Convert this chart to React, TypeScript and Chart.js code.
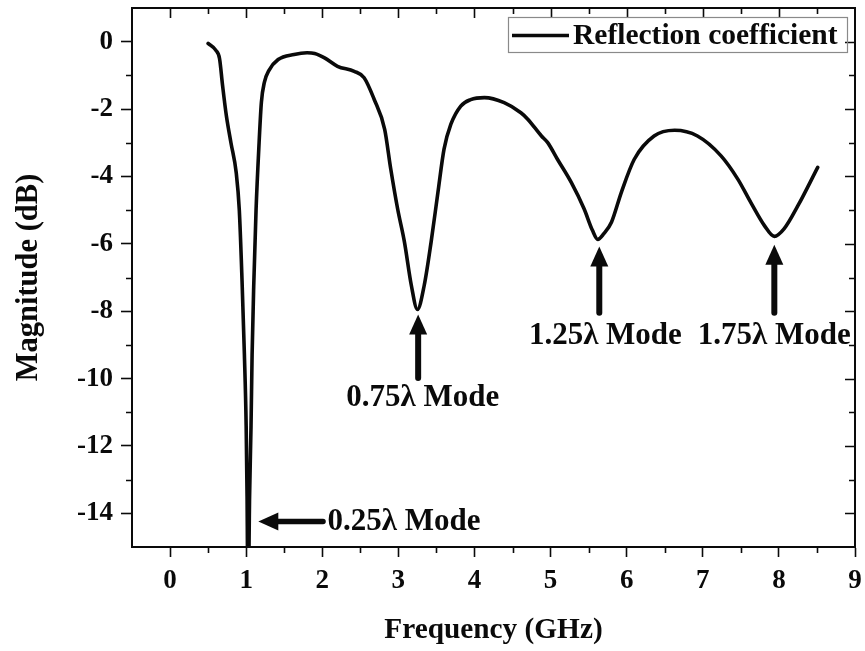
import React, { useEffect, useRef } from 'react';
import { Chart, registerables } from 'chart.js';

Chart.register(...registerables);

// Reflection coefficient sweep, frequency in GHz
const frequencyGHz = [
  0.5, 0.6, 0.65, 0.69, 0.74, 0.8, 0.87, 0.91, 0.946, 0.977, 1.0, 1.012, 1.025,
  1.045, 1.064, 1.078, 1.1, 1.13, 1.17, 1.2, 1.24, 1.3, 1.42, 1.63, 1.8, 1.9,
  2.03, 2.2, 2.42, 2.55, 2.68, 2.82, 2.9, 2.99, 3.08, 3.17, 3.25, 3.34, 3.43,
  3.52, 3.6, 3.69, 3.82, 3.95, 4.13, 4.39, 4.61, 4.7, 4.88, 4.96, 5.09, 5.27,
  5.44, 5.55, 5.62, 5.7, 5.8, 5.93, 6.1, 6.36, 6.63, 6.93, 7.24, 7.46, 7.63,
  7.81, 7.94, 8.07, 8.25, 8.51,
];

// Magnitude in dB
const magnitudeDb = [
  -0.05, -0.25, -0.5, -1.3, -2.2, -3.0, -3.9, -5.0, -7.1, -9.3, -11.4, -13.5, -17,
  -13.5, -11.4, -9.3, -7.2, -5.0, -3.0, -1.8, -1.2, -0.85, -0.53, -0.38, -0.33, -0.35,
  -0.48, -0.73, -0.88, -1.07, -1.7, -2.6, -3.78, -4.96, -5.95, -7.23, -7.95, -7.23, -5.95,
  -4.47, -3.19, -2.45, -1.91, -1.72, -1.66, -1.81, -2.11, -2.3, -2.8, -2.99, -3.49, -4.17,
  -4.96, -5.6, -5.87, -5.7, -5.36, -4.47, -3.49, -2.8, -2.63, -2.8, -3.39, -4.08, -4.77,
  -5.46, -5.78, -5.55, -4.87, -3.73,
];

const xTickValues = [0, 1, 2, 3, 4, 5, 6, 7, 8, 9];
const yTickValues = [-14, -12, -10, -8, -6, -4, -2, 0];

const seriesName = 'Reflection coefficient';

// Resonance annotations (data coordinates)
const modeNames = ['0.25λ Mode', '0.75λ Mode', '1.25λ Mode', '1.75λ Mode'];
const modeTipX = [1.16, 3.26, 5.64, 7.94];
const modeTipY = [-14.24, -8.1, -6.08, -6.03];
const modeTailX = [2.01, 3.26, 5.64, 7.94];
const modeTailY = [-14.24, -9.98, -8.05, -8.05];
const modeTextX = [2.07, 3.32, 5.72, 7.94];
const modeTextY = [-14.24, -10.55, -8.7, -8.7];

const SERIF = '"Liberation Serif", "Times New Roman", serif';
const INK = '#0a0a0a';

function drawArrow(
  ctx: CanvasRenderingContext2D,
  tx: number, ty: number, hx: number, hy: number,
  shaft: number, headLen: number, headHalf: number,
) {
  const dx = hx - tx;
  const dy = hy - ty;
  const len = Math.hypot(dx, dy);
  const ux = dx / len;
  const uy = dy / len;
  const bx = hx - ux * headLen;
  const by = hy - uy * headLen;
  ctx.save();
  ctx.strokeStyle = INK;
  ctx.fillStyle = INK;
  ctx.lineWidth = shaft;
  ctx.lineCap = 'round';
  ctx.beginPath();
  ctx.moveTo(tx, ty);
  ctx.lineTo(bx + ux * 2, by + uy * 2);
  ctx.stroke();
  ctx.beginPath();
  ctx.moveTo(hx, hy);
  ctx.lineTo(bx - uy * headHalf, by + ux * headHalf);
  ctx.lineTo(bx + uy * headHalf, by - ux * headHalf);
  ctx.closePath();
  ctx.fill();
  ctx.restore();
}

const framePlugin = {
  id: 'framePlugin',
  afterDraw(chart: any) {
    const { ctx, chartArea } = chart;
    const { left, right, top, bottom } = chartArea;
    const xs = chart.scales.x;
    const ys = chart.scales.y;
    ctx.save();
    ctx.strokeStyle = INK;
    ctx.lineWidth = 2;
    ctx.lineCap = 'butt';
    // top and right edges of the frame
    ctx.beginPath();
    ctx.moveTo(left - 1, top);
    ctx.lineTo(right + 1, top);
    ctx.moveTo(right, top);
    ctx.lineTo(right, bottom + 1);
    ctx.stroke();

    ctx.lineWidth = 1.6;
    ctx.beginPath();
    // x ticks: minor below, all on top (inward)
    for (let v = 0; v <= 9.001; v += 0.5) {
      const px = Math.round(xs.getPixelForValue(v)) + 0.5;
      const major = Math.abs(v - Math.round(v)) < 1e-6;
      if (!major) {
        ctx.moveTo(px, bottom);
        ctx.lineTo(px, bottom + 6);
      }
      if (v < 9) {
        ctx.moveTo(px, top);
        ctx.lineTo(px, top + (major ? 10 : 6));
      }
    }
    // y ticks: minor on the left, all on the right (inward)
    for (let v = -14; v <= 0.001; v += 1) {
      const py = Math.round(ys.getPixelForValue(v)) + 0.5;
      const major = v % 2 === 0;
      if (!major) {
        ctx.moveTo(left, py);
        ctx.lineTo(left - 6, py);
      }
      ctx.moveTo(right, py);
      ctx.lineTo(right - (major ? 10 : 6), py);
    }
    ctx.stroke();

    // legend box
    const lx0 = 508;
    const ly0 = 17;
    const lx1 = 847;
    const ly1 = 52;
    ctx.strokeStyle = '#8a8a8a';
    ctx.lineWidth = 1.2;
    ctx.strokeRect(lx0 + 0.5, ly0 + 0.5, lx1 - lx0, ly1 - ly0);
    const ly = (ly0 + ly1) / 2 + 1;
    ctx.strokeStyle = INK;
    ctx.lineWidth = 3.5;
    ctx.beginPath();
    ctx.moveTo(lx0 + 4, ly);
    ctx.lineTo(lx0 + 61, ly);
    ctx.stroke();
    ctx.fillStyle = INK;
    ctx.font = `bold 29.5px ${SERIF}`;
    ctx.textAlign = 'left';
    ctx.textBaseline = 'middle';
    ctx.fillText(seriesName, lx0 + 65, ly + 1);

    // mode annotations
    for (let i = 0; i < modeNames.length; i++) {
      const tipX = xs.getPixelForValue(modeTipX[i]);
      const tipY = ys.getPixelForValue(modeTipY[i]);
      const tailX = xs.getPixelForValue(modeTailX[i]);
      const tailY = ys.getPixelForValue(modeTailY[i]);
      const horizontal = Math.abs(tailY - tipY) < 1;
      drawArrow(ctx, tailX, tailY, tipX, tipY, horizontal ? 5.5 : 6, 20, 9);
      ctx.font = `bold 31px ${SERIF}`;
      ctx.fillStyle = INK;
      ctx.textAlign = horizontal ? 'left' : 'center';
      ctx.textBaseline = 'middle';
      ctx.fillText(
        modeNames[i],
        xs.getPixelForValue(modeTextX[i]),
        ys.getPixelForValue(modeTextY[i]) + 1,
      );
    }
    ctx.restore();
  },
};

export default function App() {
  const canvasRef = useRef<HTMLCanvasElement | null>(null);

  useEffect(() => {
    const canvas = canvasRef.current;
    if (!canvas) return;
    const chart = new Chart(canvas, {
      type: 'line',
      data: {
        datasets: [
          {
            label: seriesName,
            data: frequencyGHz.map((f, i) => ({ x: f, y: magnitudeDb[i] })),
            borderColor: INK,
            borderWidth: 3.6,
            pointRadius: 0,
            fill: false,
            cubicInterpolationMode: 'monotone',
            clip: 0,
            borderCapStyle: 'round',
            borderJoinStyle: 'round',
          } as any,
        ],
      },
      options: {
        responsive: false,
        animation: false,
        devicePixelRatio: 1,
        layout: { padding: { top: 8, right: 10, left: 0, bottom: 0 } },
        plugins: {
          legend: { display: false },
          tooltip: { enabled: false },
        },
        scales: {
          x: {
            type: 'linear',
            min: -0.5,
            max: 9,
            afterBuildTicks: (scale: any) => {
              scale.ticks = xTickValues.map((v) => ({ value: v }));
            },
            afterFit: (scale: any) => {
              scale.height = 104;
              scale.paddingLeft = 0;
              scale.paddingRight = 0;
            },
            grid: {
              display: true,
              drawOnChartArea: false,
              drawTicks: true,
              tickLength: 10,
              tickWidth: 1.6,
              color: INK,
            },
            border: { display: true, color: INK, width: 2 },
            ticks: {
              color: INK,
              padding: 8,
              maxRotation: 0,
              autoSkip: false,
              font: { family: SERIF, weight: 'bold', size: 27 },
              callback: (v: any) => String(v),
            },
            title: {
              display: true,
              text: 'Frequency (GHz)',
              color: INK,
              font: { family: SERIF, weight: 'bold', size: 29.3, lineHeight: 1.2 },
              padding: { top: 0, bottom: 3 },
            },
          },
          y: {
            type: 'linear',
            min: -15,
            max: 1,
            afterBuildTicks: (scale: any) => {
              scale.ticks = yTickValues.map((v) => ({ value: v }));
            },
            afterFit: (scale: any) => {
              scale.width = 132;
              scale.paddingTop = 0;
              scale.paddingBottom = 0;
            },
            grid: {
              display: true,
              drawOnChartArea: false,
              drawTicks: true,
              tickLength: 11,
              tickWidth: 1.6,
              color: INK,
            },
            border: { display: true, color: INK, width: 2 },
            ticks: {
              color: INK,
              padding: 8,
              autoSkip: false,
              font: { family: SERIF, weight: 'bold', size: 27 },
              callback: (v: any) => String(v),
            },
            title: {
              display: true,
              text: 'Magnitude (dB)',
              color: INK,
              font: { family: SERIF, weight: 'bold', size: 30.5, lineHeight: 1.2 },
              padding: { top: 11, bottom: 0 },
            },
          },
        },
      },
      plugins: [framePlugin],
    });
    return () => chart.destroy();
  }, []);

  return (
    <div style={{ position: 'absolute', left: 0, top: 0, width: 865, height: 651, background: '#fff' }}>
      <canvas ref={canvasRef} width={865} height={651} style={{ display: 'block' }} />
    </div>
  );
}
